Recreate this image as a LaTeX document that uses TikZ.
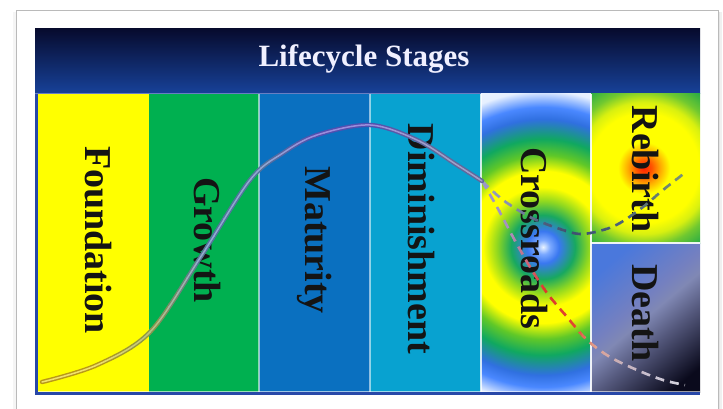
\documentclass[tikz,border=0pt]{standalone}
\usepackage{fontspec}
\setmainfont{Liberation Serif}
\definecolor{yellowC}{HTML}{FFFF00}
\definecolor{greenC}{HTML}{00B050}
\definecolor{matC}{HTML}{0A70C0}
\definecolor{dimC}{HTML}{08A2D0}
\definecolor{navyT}{HTML}{070B2E}
\definecolor{navyB}{HTML}{17429A}
\definecolor{borderB}{HTML}{2848A8}
% main curve colours
\definecolor{oA}{HTML}{B89818}
\definecolor{oB}{HTML}{8C9848}
\definecolor{oC}{HTML}{52749C}
\definecolor{oD}{HTML}{5050B0}
\definecolor{oE}{HTML}{60689C}
\definecolor{iA}{HTML}{F0E070}
\definecolor{iB}{HTML}{B8C080}
\definecolor{iC}{HTML}{90A8D0}
\definecolor{iD}{HTML}{9C8CDC}
\definecolor{iE}{HTML}{A0A0C8}
% dashed branch colours
\definecolor{dr1}{HTML}{9A98C8}
\definecolor{dr2}{HTML}{A890C0}
\definecolor{dr3}{HTML}{D06070}
\definecolor{dr4}{HTML}{E03828}
\definecolor{dr5}{HTML}{E04830}
\definecolor{dr6}{HTML}{E0A090}
\definecolor{dr7}{HTML}{C8B0B8}
\definecolor{dr8}{HTML}{C8C0D0}
\definecolor{dr9}{HTML}{D8D8E0}
\definecolor{rb1}{HTML}{9CA4C4}
\definecolor{rb2}{HTML}{8890B0}
\definecolor{rb3}{HTML}{506080}
\definecolor{rb4}{HTML}{405070}
\definecolor{rb5}{HTML}{405878}
\definecolor{rb6}{HTML}{506878}
\definecolor{rb7}{HTML}{6A8070}
\definecolor{rb8}{HTML}{80987A}
% crossroads rings
\definecolor{crW}{HTML}{EAF4FF}
\definecolor{crLB}{HTML}{7AA8FF}
\definecolor{crB}{HTML}{3A78F0}
\definecolor{crG}{HTML}{18A860}
\definecolor{crYG}{HTML}{90D820}
\definecolor{crY}{HTML}{FFFF00}
\definecolor{crG2}{HTML}{60C828}
\definecolor{crG3}{HTML}{10A860}
\definecolor{crB2}{HTML}{3070E0}
\definecolor{crB3}{HTML}{4A88FF}
\definecolor{crW2}{HTML}{E6F0FF}
% rebirth
\definecolor{rbR}{HTML}{FF2000}
\definecolor{rbO}{HTML}{FF5800}
\definecolor{rbO2}{HTML}{FFA800}
\definecolor{rbY}{HTML}{FFFF00}
\definecolor{rbYG}{HTML}{D8F010}
\definecolor{rbG}{HTML}{70C830}
\definecolor{rbG2}{HTML}{20A848}
% death
\definecolor{dA}{HTML}{4A78DC}
\definecolor{dB}{HTML}{7480C0}
\definecolor{dHL}{HTML}{8088B4}
\definecolor{dC}{HTML}{54587C}
\definecolor{dD}{HTML}{0A0A1C}

\pgfdeclareradialshading{crossR}{\pgfpoint{0bp}{0bp}}{color(0bp)=(crW); color(0.9bp)=(crLB); color(2bp)=(crB); color(4bp)=(crG); color(5.75bp)=(crYG); color(7.5bp)=(crY); color(9.5bp)=(crY); color(11.5bp)=(crG2); color(13.5bp)=(crG3); color(16bp)=(crB2); color(17.5bp)=(crB3); color(19.5bp)=(crW2); color(25bp)=(white); color(50bp)=(white)}
\pgfdeclareradialshading{rebR}{\pgfpoint{0bp}{0bp}}{color(0bp)=(rbR); color(1bp)=(rbO); color(2bp)=(rbO2); color(3.25bp)=(rbY); color(6.875bp)=(rbY); color(8.25bp)=(rbYG); color(9.75bp)=(rbG); color(11.875bp)=(rbG2); color(25bp)=(rbG2); color(50bp)=(rbG2)}
\pgfdeclarehorizontalshading{deathS}{100bp}{color(0bp)=(dA); color(25bp)=(dA); color(44bp)=(dB); color(50bp)=(dHL); color(60bp)=(dC); color(78bp)=(dD); color(100bp)=(dD)}

\def\maincurve{plot[smooth,tension=0.55] coordinates {(42,382) (97,365) (150,332) (200,258) (250,180) (283,153) (317,135) (370,125) (417,140) (457,165) (482,181)}}
\def\deathcurve{plot[smooth,tension=0.55] coordinates {(482,181) (497,207) (513,237) (530,267) (547,293) (567,317) (587,340) (610,357) (637,370) (663,380) (685,385)}}
\def\rebirthcurve{plot[smooth,tension=0.55] coordinates {(482,181) (503,200) (530,217) (557,228) (580,234) (603,230) (620,223) (643,207) (663,190) (686,172)}}

% draw a path in vertical strips whose colours blend along x
\newcommand{\stripdraw}[3]{%
  \foreach \xa/\xb/\ca/\cb in {#3} {
    \foreach \j in {0,...,5} {
      \pgfmathsetmacro\stripL{\xa+(\xb-\xa)*\j/6}
      \pgfmathsetmacro\stripR{\xa+(\xb-\xa)*(\j+1)/6+0.5}
      \pgfmathtruncatemacro\pp{100-100*(\j+0.5)/6}
      \begin{scope}
        \clip (\stripL,0) rectangle (\stripR,409);
        \colorlet{stripc}{\ca!\pp!\cb}
        \draw[#1, stripc] #2;
      \end{scope}
    }
  }%
}

\begin{document}
\begin{tikzpicture}[x=1pt,y=-1pt,
  lbl/.style={rotate=-90, font=\fontsize{38}{40}\selectfont\bfseries, text=black!92, inner sep=0pt},
  sep/.style={white, opacity=0.55, line width=1.1}]
\useasboundingbox (0,0) rectangle (723,409);
\fill[white] (0,0) rectangle (723,409);
% card and its shadow
\fill[black!6] (715,12) rectangle (722,409);
\fill[black!10] (717,12) rectangle (720,409);
\fill[black!4] (13,12) rectangle (17,409);
\filldraw[fill=white, draw=black!27, line width=0.9] (16.5,10.5) rectangle (718,415);

% title band
\shade[top color=navyT, bottom color=navyB] (35,29) rectangle (700,94);
\draw[line width=1, color=borderB!70!white] (35,93.5) -- (700,93.5);

% stage columns
\fill[yellowC] (38,94) rectangle (149,392);
\fill[greenC] (149,94) rectangle (259,392);
\fill[matC] (259,94) rectangle (370,392);
\fill[dimC] (370,94) rectangle (481,392);
\begin{scope}
  \clip (481,94) rectangle (591,392);
  \shade[shading=crossR] (343,47) rectangle (743,447);
\end{scope}
\begin{scope}
  \clip (591,94) rectangle (700,243);
  \shade[shading=rebR] (444,-32) rectangle (844,368);
\end{scope}
\shade[shading=deathS, shading angle=-50] (591,243) rectangle (700,392);

% separators and border
\draw[sep] (259,94) -- (259,392);
\draw[sep] (370,94) -- (370,392);
\draw[sep, opacity=0.8] (481,94) -- (481,392);
\draw[sep, opacity=0.9] (591,94) -- (591,392);
\draw[sep, opacity=0.9, line width=1.5] (591,243) -- (700,243);
\draw[white, opacity=0.6, line width=1] (38,391.5) -- (700,391.5);
\fill[borderB] (35,94) rectangle (37.8,394.5);
\fill[borderB] (35,392.3) rectangle (700,394.5);

% title
\node[anchor=base, font=\fontsize{31}{33}\selectfont\bfseries, text=white!94!blue, inner sep=0pt] (title) at (364,67) {Lifecycle Stages};

% labels
\node[lbl] (foundation) at (98,240) {Foundation};
\node[lbl] (growth) at (207,240) {Growth};
\node[lbl] (maturity) at (314.5,240) {Maturity};
\node[lbl] (dimin) at (421,239) {Diminishment};
\node[lbl] (cross) at (534,238.5) {Crossroads};
\node[lbl] (rebirth) at (645,169) {Rebirth};
\node[lbl] (death) at (645,313) {Death};

% dashed branches
\stripdraw{line width=2.6, dash pattern=on 9pt off 6pt}{\rebirthcurve}{480/510/rb1/rb2, 510/540/rb2/rb3, 540/570/rb3/rb4, 570/600/rb4/rb5, 600/630/rb5/rb6, 630/660/rb6/rb7, 660/690/rb7/rb8}
\stripdraw{line width=2.6, dash pattern=on 9pt off 6pt}{\deathcurve}{480/510/dr1/dr2, 510/530/dr2/dr3, 530/545/dr3/dr4, 545/575/dr4/dr5, 575/595/dr5/dr6, 595/620/dr6/dr7, 620/650/dr7/dr8, 650/690/dr8/dr9}

% main S-curve (outline, then inner)
\stripdraw{line width=4.4, line cap=round}{\maincurve}{36/95/oA/oA, 95/150/oA/oB, 150/205/oB/oC, 205/260/oC/oC, 260/315/oC/oD, 315/370/oD/oD, 370/430/oD/oE, 430/486/oE/oE}
\stripdraw{line width=1.5, line cap=round}{\maincurve}{36/95/iA/iA, 95/150/iA/iB, 150/205/iB/iC, 205/260/iC/iC, 260/315/iC/iD, 315/370/iD/iD, 370/430/iD/iE, 430/486/iE/iE}
\end{tikzpicture}
\end{document}
